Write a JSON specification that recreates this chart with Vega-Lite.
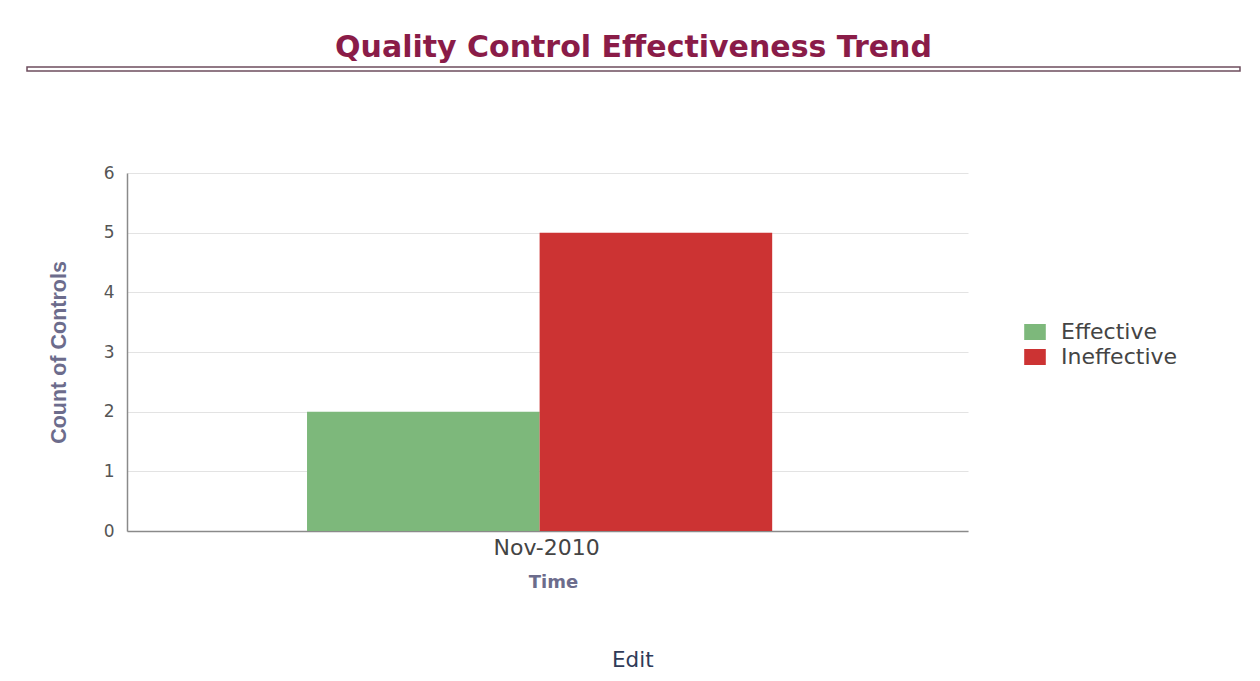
{
  "$schema": "https://vega.github.io/schema/vega-lite/v6.json",
  "padding": {"left": 24, "top": 32, "right": 5, "bottom": 5},
  "background": "white",
  "title": {"text": "Edit", "orient": "bottom", "anchor": "middle", "font": "DejaVu Sans", "fontSize": 21.5, "fontWeight": "normal", "color": "#2f3b58", "offset": 59},
  "spacing": 91,
  "vconcat": [
    {
      "width": 1213,
      "height": 4,
      "data": {"values": [{"dummy": 0}]},
      "mark": {"type": "point", "opacity": 0},
      "encoding": {},
      "view": {"stroke": "#6e4e5e", "strokeWidth": 1.5, "fill": null},
      "title": {"text": "Quality Control Effectiveness Trend", "font": "DejaVu Sans", "fontSize": 30, "fontWeight": "bold", "color": "#8a1c48", "anchor": "middle", "offset": 3}
    },
    {
      "spacing": 17,
      "hconcat": [
        {
          "width": 1,
          "height": 10,
          "data": {"values": [{"dummy": 0}]},
          "mark": {"type": "point", "opacity": 0},
          "encoding": {},
          "view": {"stroke": null}
        },
        {
          "width": 841,
          "height": 358,
          "data": {"values": [
            {"Time": "Nov-2010", "Status": "Effective", "Count": 2},
            {"Time": "Nov-2010", "Status": "Ineffective", "Count": 5}
          ]},
          "mark": {"type": "bar"},
          "view": {"stroke": null},
          "encoding": {
            "x": {
              "field": "Time", "type": "nominal",
              "scale": {"paddingInner": 0, "paddingOuter": 0.404, "align": 0.479},
              "axis": {"title": "Time", "titleX": 426, "labelAngle": 0, "labelOffset": 7, "labelFont": "DejaVu Sans", "labelFontSize": 22, "labelColor": "#444444", "labelPadding": 6, "ticks": false, "domainColor": "#8a8a8a", "domainWidth": 1.5, "titleFont": "DejaVu Sans", "titleFontSize": 18, "titleFontWeight": "bold", "titleColor": "#6c6c8c", "titlePadding": 15, "grid": false}
            },
            "xOffset": {"field": "Status", "type": "nominal", "scale": {"paddingInner": 0, "paddingOuter": 0}},
            "y": {
              "field": "Count", "type": "quantitative",
              "scale": {"domain": [0, 6]},
              "axis": {"title": "Count of Controls", "values": [0, 1, 2, 3, 4, 5, 6], "labelFont": "DejaVu Sans", "labelFontSize": 17, "labelColor": "#555555", "labelPadding": 13, "ticks": false, "domainColor": "#8a8a8a", "domainWidth": 1.5, "gridColor": "#e3e3e3", "titleFont": "Liberation Sans", "titleFontSize": 21.5, "titleFontWeight": "bold", "titleColor": "#6c6c8c", "titlePadding": 33}
            },
            "color": {
              "field": "Status", "type": "nominal",
              "scale": {"domain": ["Effective", "Ineffective"], "range": ["#7db87b", "#cc3333"]},
              "legend": {"title": null, "orient": "none", "legendX": 997, "legendY": 254, "symbolType": "M-1.35,-1H1.35V1H-1.35Z", "symbolSize": 256, "symbolStrokeWidth": 0, "labelFont": "DejaVu Sans", "labelFontSize": 22, "labelColor": "#444444", "labelOffset": 15, "rowPadding": 3}
            }
          }
        }
      ]
    }
  ]
}
